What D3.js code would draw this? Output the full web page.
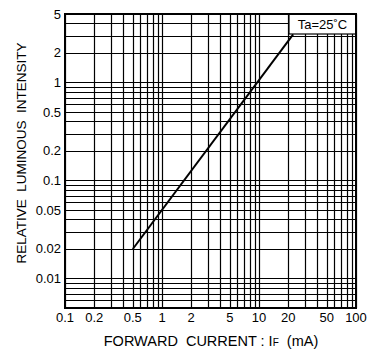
<!DOCTYPE html>
<html>
<head>
<meta charset="utf-8">
<script src="https://cdn.jsdelivr.net/npm/d3@7"></script>
<style>
  body { margin: 0; background: #fff; }
  text { font-family: "Liberation Sans", Arial, sans-serif; fill: #000; }
</style>
</head>
<body>
<svg id="chart" width="374" height="356"></svg>
<script>
// data
let x_ticks = [0.1, 0.2, 0.5, 1, 2, 5, 10, 20, 50, 100]
let y_ticks = [0.01, 0.02, 0.05, 0.1, 0.2, 0.5, 1, 2, 5]
let current = [0.5, 22.5]
let intensity = [0.02, 3.1]

let plot_left = 65, plot_right = 356, plot_top = 14, plot_bottom = 308

let svg = d3.select("#chart")

let x = d3.scaleLog().domain([0.1, 100]).range([plot_left, plot_right])
let y = d3.scaleLog().domain([0.005, 5]).range([plot_bottom, plot_top])

// grid
let grid = svg.append("g").attr("id", "grid")
grid.selectAll("line.vx")
    .data(x.ticks())
    .enter().append("line")
    .attr("x1", d => Math.round(x(d)) + 0.5)
    .attr("x2", d => Math.round(x(d)) + 0.5)
    .attr("y1", plot_top)
    .attr("y2", plot_bottom)
    .attr("stroke", "#000")
    .attr("stroke-width", 1.2)

grid.selectAll("line.hy")
    .data(y.ticks())
    .enter().append("line")
    .attr("x1", plot_left)
    .attr("x2", plot_right)
    .attr("y1", d => Math.round(y(d)) + 0.5)
    .attr("y2", d => Math.round(y(d)) + 0.5)
    .attr("stroke", "#000")
    .attr("stroke-width", 1.2)

// curve
let line = d3.line().x(d => x(d[0])).y(d => y(d[1]))
svg.append("path")
   .datum(d3.zip(current, intensity))
   .attr("d", line)
   .attr("fill", "none")
   .attr("stroke", "#000")
   .attr("stroke-width", 2)

// label box
let box_left = 289, box_bottom = 34
svg.append("rect")
   .attr("x", box_left)
   .attr("y", plot_top)
   .attr("width", plot_right - box_left)
   .attr("height", box_bottom - plot_top)
   .attr("fill", "#fff")
   .attr("stroke", "#000")
   .attr("stroke-width", 1.2)
svg.append("text")
   .attr("x", (box_left + plot_right) / 2)
   .attr("y", 29)
   .attr("text-anchor", "middle")
   .attr("font-size", 13)
   .text("Ta=25˚C")

// frame
svg.append("rect")
   .attr("x", plot_left)
   .attr("y", plot_top)
   .attr("width", plot_right - plot_left)
   .attr("height", plot_bottom - plot_top)
   .attr("fill", "none")
   .attr("stroke", "#000")
   .attr("stroke-width", 2)

// tick labels
svg.selectAll("text.xt")
   .data(x_ticks)
   .enter().append("text")
   .attr("x", d => x(d))
   .attr("y", 322)
   .attr("text-anchor", "middle")
   .attr("font-size", 13)
   .text(d => d)

svg.selectAll("text.yt")
   .data(y_ticks)
   .enter().append("text")
   .attr("x", 61)
   .attr("y", d => y(d) + 4.5)
   .attr("text-anchor", "end")
   .attr("font-size", 13)
   .text(d => d)

// axis titles
let xt = svg.append("text")
   .attr("x", 211)
   .attr("y", 346)
   .attr("text-anchor", "middle")
   .attr("font-size", 14.5)
   .style("white-space", "pre")
xt.append("tspan").text("FORWARD  CURRENT : I")
xt.append("tspan").attr("font-size", 10).text("F")
xt.append("tspan").text("  (mA)")

svg.append("text")
   .attr("transform", "translate(26," + 153 + ") rotate(-90)")
   .attr("text-anchor", "middle")
   .attr("font-size", 13.5)
   .style("white-space", "pre")
   .text("RELATIVE  LUMINOUS  INTENSITY")
</script>
</body>
</html>
